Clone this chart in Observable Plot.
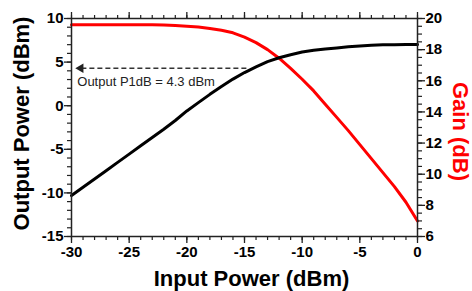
<!DOCTYPE html>
<html><head><meta charset="utf-8">
<script src="https://cdn.jsdelivr.net/npm/d3@7"></script>
<script src="https://cdn.jsdelivr.net/npm/@observablehq/plot@0.6"></script>
<style>body{margin:0;background:#fff}</style>
</head><body><div id="chart"></div>
<script>
const inputPower = [-30,-29,-28,-27,-26,-25,-24,-23,-22,-21,-20,-19,-18,-17,-16,-15,-14,-13,-12,-11,-10,-9,-8,-7,-6,-5,-4,-3,-2,-1,0];
const outputPower = [-10.3,-9.35,-8.4,-7.45,-6.5,-5.55,-4.6,-3.65,-2.7,-1.7,-0.6,0.35,1.3,2.2,3.05,3.8,4.45,5.05,5.5,5.85,6.15,6.35,6.5,6.62,6.75,6.85,6.93,6.98,7.0,7.02,7.03];
const gainDb = [19.6,19.6,19.6,19.6,19.6,19.6,19.6,19.6,19.58,19.55,19.5,19.45,19.36,19.24,19.08,18.8,18.45,18.0,17.45,16.8,16.1,15.35,14.5,13.65,12.8,11.9,11.0,10.1,9.2,8.2,7.0];
const xTicks = [-30,-25,-20,-15,-10,-5,0];
const yTicks = [-15,-10,-5,0,5,10];
const gainTicks = [6,8,10,12,14,16,18,20];
const p1dbText = "Output P1dB = 4.3 dBm";
const p1dbOutput = 4.3;
const p1dbInput = -14.6;
const arrowTipInput = -29.5;

const xDomain = [-30, 0], yDomain = [-15, 10], gainDomain = [6, 20];
const g2y = d3.scaleLinear().domain(gainDomain).range(yDomain);

const data = inputPower.map((x, i) => ({x, out: outputPower[i], gain: g2y(gainDb[i])}));
const xMinor = d3.range(-30, 0.001, 1);
const yMinor = d3.range(-15, 10.001, 1);
const gMinor = d3.range(6, 20.001, 0.5).map(g2y);
const axisColor = "#222";

const chart = Plot.plot({
  width: 472, height: 291,
  marginLeft: 71, marginRight: 55, marginTop: 18, marginBottom: 55,
  x: {domain: xDomain},
  y: {domain: yDomain},
  style: {fontFamily: "Liberation Sans, Arial, sans-serif", fontSize: "15px", fontWeight: "bold", color: "#000", background: "#fff", overflow: "visible"},
  marks: [
    Plot.line(data, {x: "x", y: "gain", stroke: "#ff0000", strokeWidth: 3}),
    Plot.line(data, {x: "x", y: "out", stroke: "#000", strokeWidth: 3}),
    Plot.ruleY([p1dbOutput], {x1: arrowTipInput + 0.4, x2: p1dbInput, stroke: "#333", strokeWidth: 1.5, strokeDasharray: "5,3"}),
    Plot.dot([p1dbOutput], {x: arrowTipInput + 0.3, y: d => d, symbol: "triangle", r: 3.5, rotate: -90, fill: "#222", stroke: "none"}),
    Plot.text([p1dbText], {x: arrowTipInput, y: 2.7, text: d => d, textAnchor: "start", fontSize: 13, fontWeight: "normal", fill: "#222"}),
    Plot.frame({stroke: axisColor, strokeWidth: 1.5}),
    Plot.axisX({anchor: "bottom", ticks: xMinor, tickSize: 4, fill: "none", stroke: axisColor, strokeWidth: 1.2, label: null}),
    Plot.axisX({anchor: "top", ticks: xMinor, tickSize: 4, fill: "none", stroke: axisColor, strokeWidth: 1.2, label: null}),
    Plot.axisX({anchor: "bottom", ticks: xTicks, tickSize: 7, tickPadding: 3, stroke: axisColor, strokeWidth: 1.3, tickFormat: d => String(d), label: null}),
    Plot.axisX({anchor: "top", ticks: xTicks, tickSize: 7, fill: "none", stroke: axisColor, strokeWidth: 1.3, label: null}),
    Plot.axisY({anchor: "left", ticks: yMinor, tickSize: 4, fill: "none", stroke: axisColor, strokeWidth: 1.2, label: null}),
    Plot.axisY({anchor: "left", ticks: yTicks, tickSize: 7, tickPadding: 1, stroke: axisColor, strokeWidth: 1.3, tickFormat: d => String(d), label: null}),
    Plot.axisY({anchor: "right", ticks: gMinor, tickSize: 4, fill: "none", stroke: axisColor, strokeWidth: 1.2, label: null}),
    Plot.axisY({anchor: "right", ticks: gainTicks.map(g2y), tickSize: 7, tickPadding: 1, stroke: axisColor, strokeWidth: 1.3, tickFormat: y => String(Math.round(g2y.invert(y))), label: null}),
    Plot.text(["Output Power (dBm)"], {frameAnchor: "left", dx: -50, dy: -4, rotate: -90, text: d => d, textAnchor: "middle", lineAnchor: "middle", fontSize: 22, fontWeight: "bold", fill: "#000"}),
    Plot.text(["Input Power (dBm)"], {frameAnchor: "bottom", dx: 7, dy: 42, text: d => d, textAnchor: "middle", lineAnchor: "middle", fontSize: 22, fontWeight: "bold", fill: "#000"}),
    Plot.text(["Gain (dB)"], {frameAnchor: "right", dx: 43, dy: 4, rotate: 90, text: d => d, textAnchor: "middle", lineAnchor: "middle", fontSize: 22, fontWeight: "bold", fill: "#ff0000"})
  ]
});
document.getElementById("chart").appendChild(chart);
</script>
</body></html>
